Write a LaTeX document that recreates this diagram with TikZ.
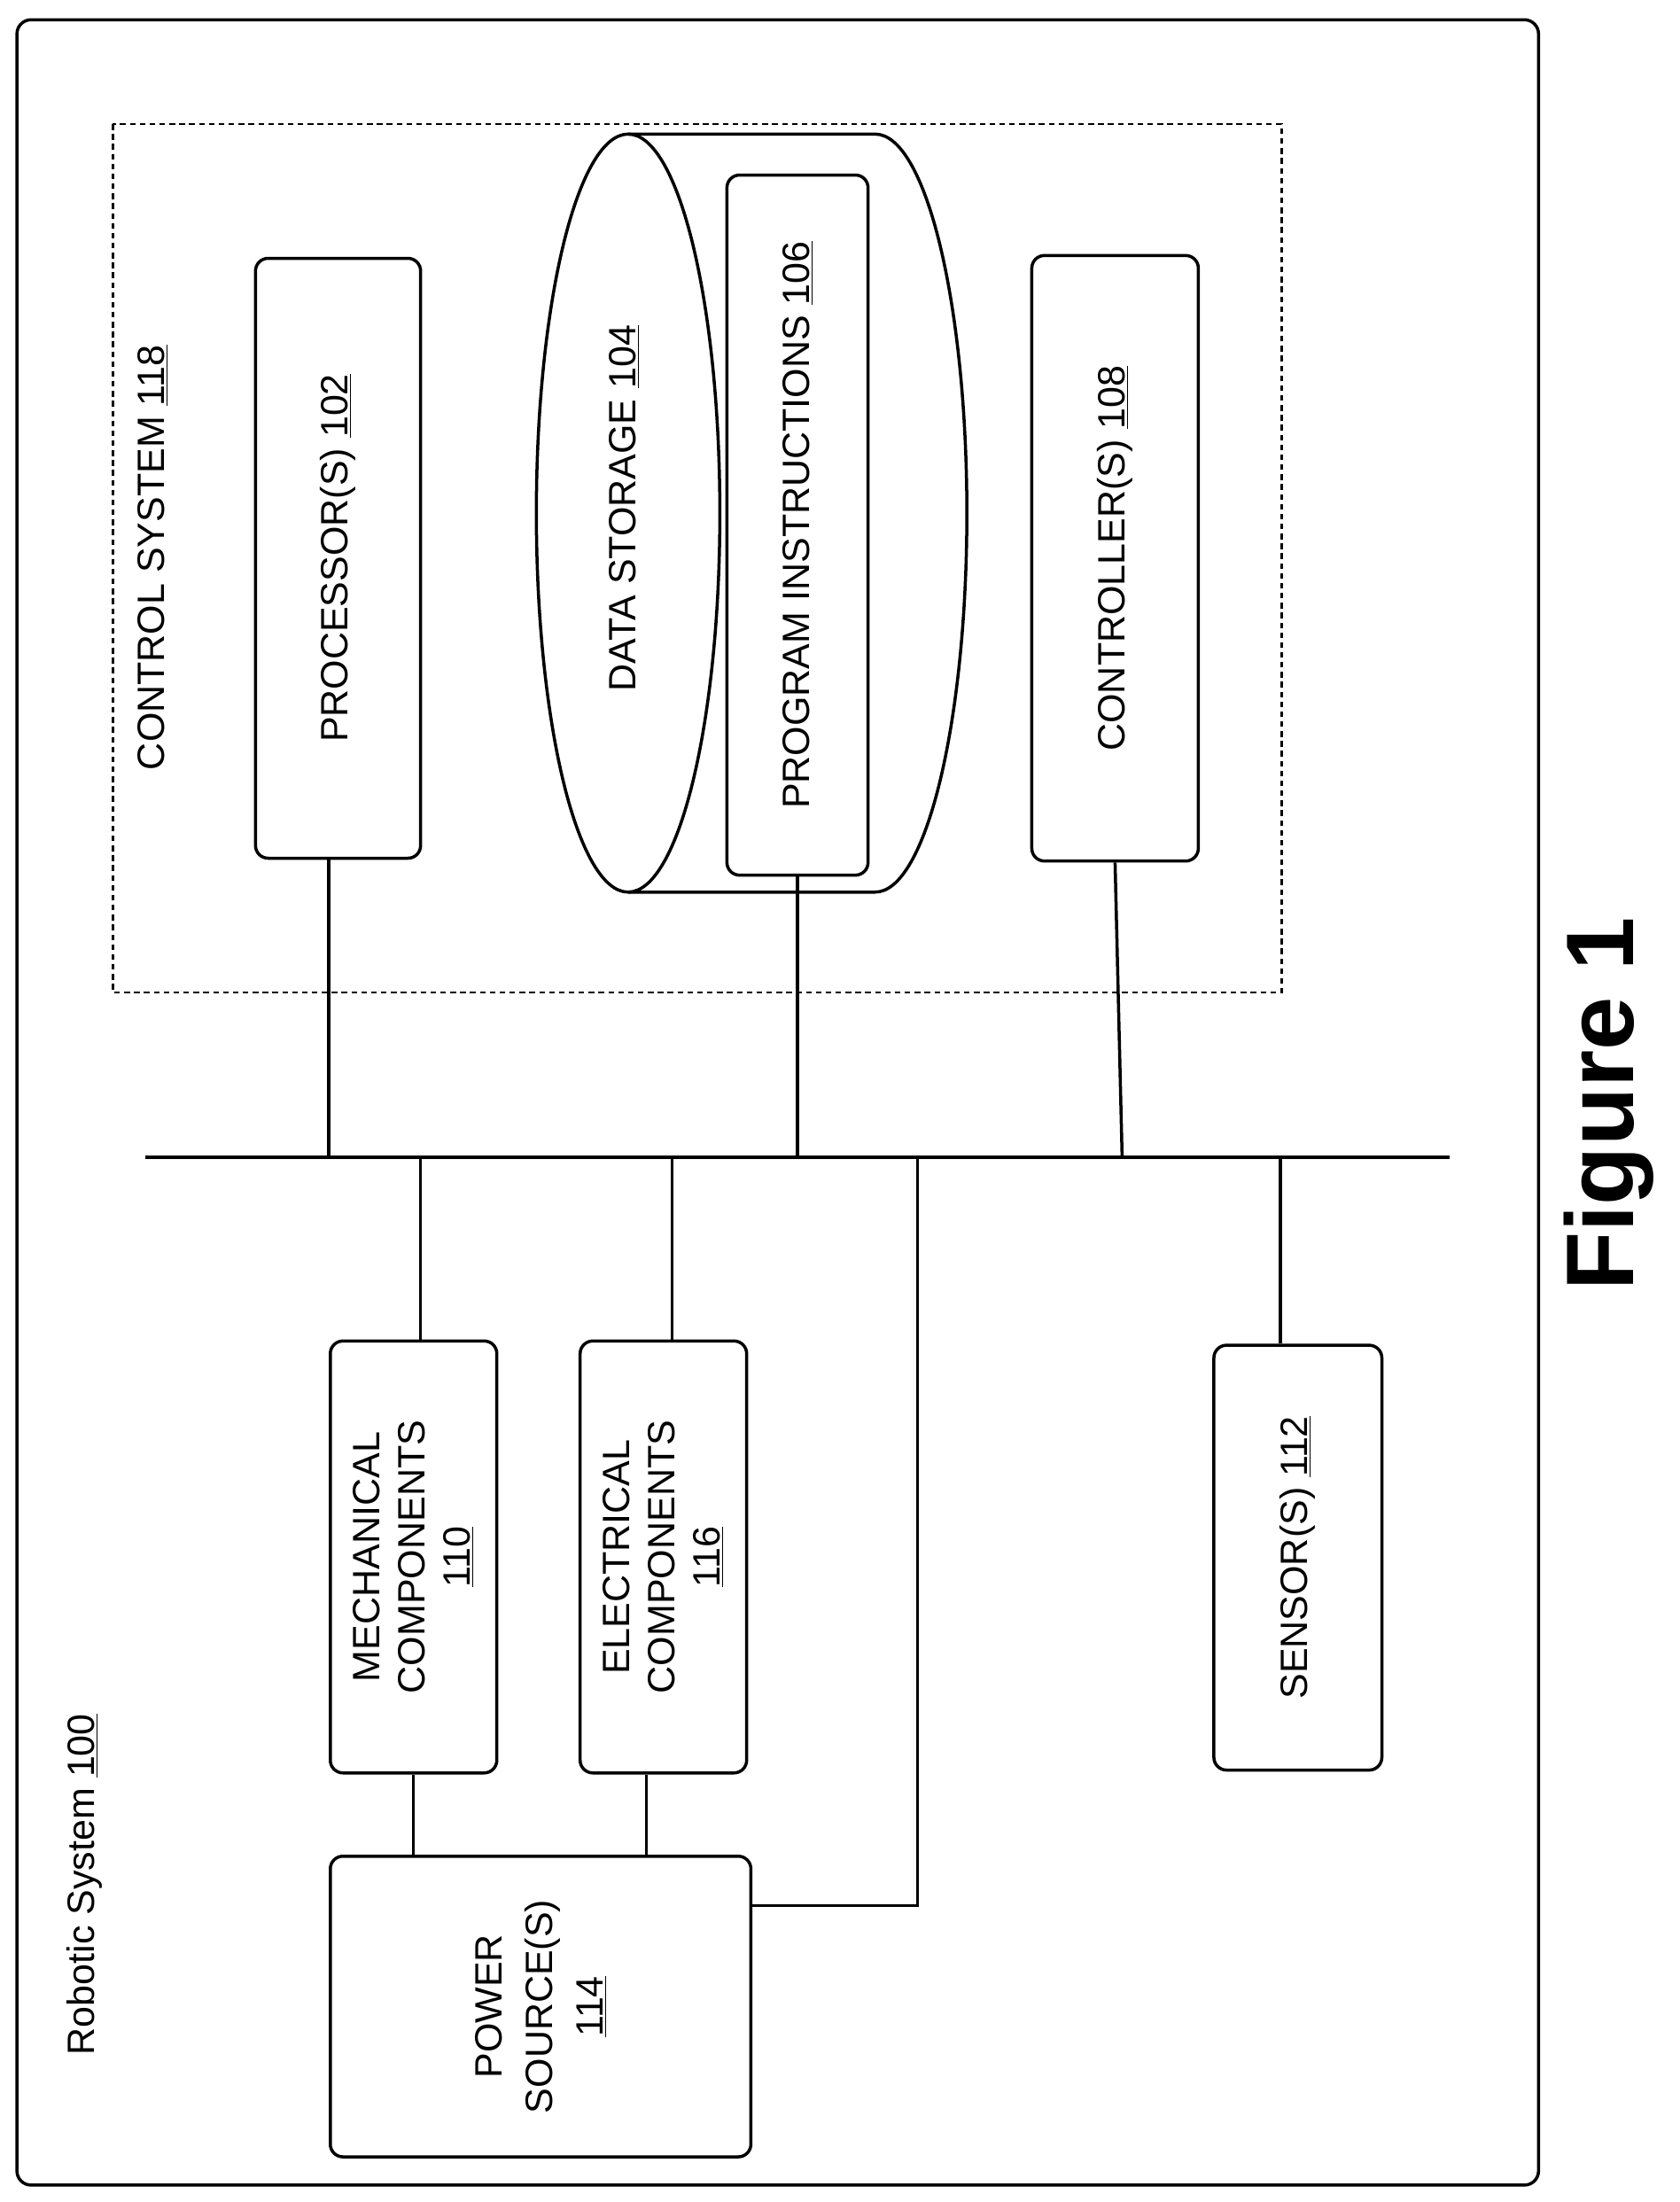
\documentclass[tikz,border=0pt]{standalone}
\usepackage{fontspec}
\setmainfont{Liberation Sans}
\begin{document}
\begin{tikzpicture}[x=1pt,y=-1pt,line width=2.2pt,
  box/.style={draw,rounded corners=9pt},
  lbl/.style={rotate=90,font=\fontsize{27}{32}\selectfont,align=center},
  txt/.style={inner sep=0,outer sep=0}]
\useasboundingbox (0,0) rectangle (1190,1560);
\draw[rounded corners=10pt] (12,14) rectangle (1090,1548);
\draw[dashed,line width=1.4pt,dash pattern=on 4pt off 3pt] (80,88) rectangle (908,703);
\node[lbl,txt] (cs) at (108,395) {CONTROL SYSTEM \underline{118}};
\node[lbl,txt] (rs) at (60,1335) {Robotic System \underline{100}};
% processor
\node[box,minimum width=117pt,minimum height=425pt,inner sep=0] (p) at (239.5,395.5) {};
\node[lbl,txt] at (p) {PROCESSOR(S) \underline{102}};
% cylinder
\draw (445,363.5) ellipse [x radius=65,y radius=268.5];
\draw (445,95) -- (620,95) arc[start angle=-90,end angle=90,x radius=65,y radius=268.5] -- (445,632);
\node[lbl,txt] (ds) at (442,360) {DATA STORAGE \underline{104}};
\node[box,minimum width=100pt,minimum height=496pt,inner sep=0] (pi) at (565,372) {};
\node[lbl,txt] at (pi) {PROGRAM INSTRUCTIONS \underline{106}};
% controller
\node[box,minimum width=118pt,minimum height=429pt,inner sep=0] (c) at (790,395.5) {};
\node[lbl,txt] at (c) {CONTROLLER(S) \underline{108}};
% bottom boxes
\node[box,minimum width=118pt,minimum height=306pt,inner sep=0] (m) at (293,1103) {};
\node[lbl,txt] at (m) {MECHANICAL\\COMPONENTS\\\underline{110}};
\node[box,minimum width=118pt,minimum height=306pt,inner sep=0] (e) at (470,1103) {};
\node[lbl,txt] at (e) {ELECTRICAL\\COMPONENTS\\\underline{116}};
\node[box,minimum width=119pt,minimum height=301pt,inner sep=0] (s) at (919.5,1103.5) {};
\node[lbl,txt] at (s) {SENSOR(S) \underline{112}};
\node[box,minimum width=298pt,minimum height=213pt,inner sep=0] (ps) at (383,1421.5) {};
\node[lbl,txt,font=\fontsize{27}{36}\selectfont] at (ps) {POWER\\SOURCE(S)\\\underline{114}};
\node[txt,rotate=90,font=\fontsize{68}{80}\selectfont\bfseries] (fig) at (1140,782) {Figure 1};
% bus
\coordinate (bl) at (103,820);
\coordinate (br) at (1027,820);
\draw (bl) -- (br);
\draw (p.south -| 233,0) -- (233,820);
\draw (pi.south) -- (565,820);
\draw (c.south) -- (795,820);
\draw (298,820) -- (m.north -| 298,0);
\draw (476,820) -- (e.north -| 476,0);
\draw (907,820) -- (s.north -| 907,0);
\draw (650,820) -- (650,1350) -- (ps.east |- 0,1350);
\draw (m.south -| 293,0) -- (ps.north -| 293,0);
\draw (e.south -| 458,0) -- (ps.north -| 458,0);
\end{tikzpicture}
\end{document}
